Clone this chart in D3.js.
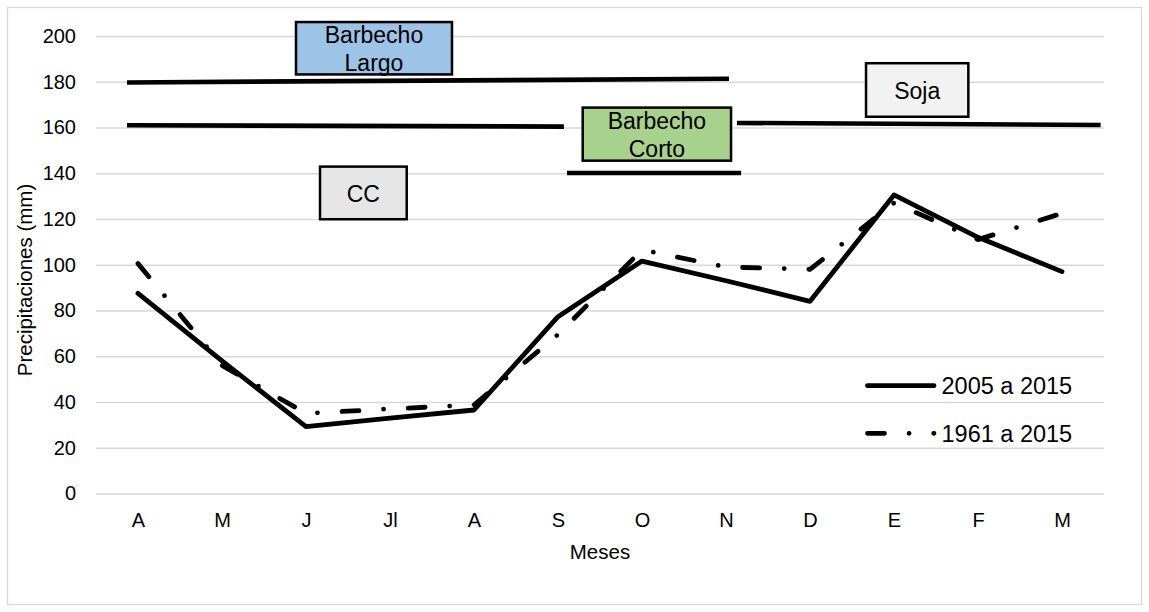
<!DOCTYPE html>
<html>
<head>
<meta charset="utf-8">
<script src="https://cdn.jsdelivr.net/npm/d3@7"></script>
<style>
  body { margin: 0; background: #fff; }
  svg { display: block; }
  text { font-family: "Liberation Sans", Arial, Helvetica, sans-serif; fill: #000; }
</style>
</head>
<body>
<svg id="chart" width="1149" height="612"></svg>
<script>
// Monthly rainfall (mm), April to March
const months = ["A", "M", "J", "Jl", "A", "S", "O", "N", "D", "E", "F", "M"];
const rain2005to2015 = [87.5, 58, 29.2, 33, 36.5, 77.3, 101.6, 93, 84, 130.5, 112, 97];
const rain1961to2015 = [100.5, 56, 35, 37, 38.7, 69.5, 106.5, 99, 98, 127, 111, 122.5];
const seriesNames = ["2005 a 2015", "1961 a 2015"];
const yTicks = [0, 20, 40, 60, 80, 100, 120, 140, 160, 180, 200];

// Crop-period bars: span in month-index units, level in mm at each end
const periodFrom = [-0.131, -0.131, 7.13, 5.107];
const periodTo = [7.036, 5.07, 11.46, 7.18];
const periodStartLevel = [179.7, 161.0, 162.0, 140.1];
const periodEndLevel = [181.3, 160.4, 161.1, 140.1];

// Period labels: text lines, span in month-index units, top/bottom in mm
const labelText = [["Barbecho", "Largo"], ["Barbecho", "Corto"], ["Soja"], ["CC"]];
const labelFrom = [1.881, 5.294, 8.667, 2.167];
const labelTo = [3.738, 7.06, 9.885, 3.199];
const labelTop = [206.1, 168.7, 188.1, 142.9];
const labelBottom = [183.2, 145.5, 164.7, 119.9];
const labelFill = ["#9DC3E6", "#A9D18E", "#F2F2F2", "#E7E6E6"];

const svg = d3.select("#chart");
const W = 1149, H = 612;
const plot = { left: 96, right: 1104, top: 36, bottom: 493.5 };

// chart area frame
svg.append("rect")
  .attr("x", 7.5).attr("y", 7.5)
  .attr("width", W - 15).attr("height", H - 15)
  .attr("fill", "#fff").attr("stroke", "#D9D9D9").attr("stroke-width", 1.3);

const idx = d3.range(months.length);
const x = d3.scalePoint().domain(idx).range([plot.left, plot.right]).padding(0.5);
const xi = d3.scaleLinear().domain([-0.5, months.length - 0.5]).range([plot.left, plot.right]);
const y = d3.scaleLinear().domain([0, 200]).range([plot.bottom, plot.top]);

// y axis with gridlines
const yAxis = svg.append("g")
  .attr("transform", `translate(${plot.left},0)`)
  .call(d3.axisLeft(y).tickValues(yTicks).tickSize(-(plot.right - plot.left)).tickPadding(20));
yAxis.select(".domain").remove();
yAxis.selectAll(".tick line").attr("stroke", "#D9D9D9").attr("stroke-width", 1.4);
yAxis.selectAll(".tick text").attr("font-size", 20).style("fill", "#000");

// x axis labels
const xAxis = svg.append("g")
  .attr("transform", `translate(0,${plot.bottom})`)
  .call(d3.axisBottom(x).tickSize(0).tickPadding(19).tickFormat(i => months[i]));
xAxis.select(".domain").remove();
xAxis.selectAll(".tick text").attr("font-size", 20).style("fill", "#000");

// axis titles
svg.append("text")
  .attr("x", 600).attr("y", 558.5)
  .attr("text-anchor", "middle").attr("font-size", 20.5)
  .text("Meses");
svg.append("text")
  .attr("transform", "translate(32,280) rotate(-90)")
  .attr("text-anchor", "middle").attr("font-size", 20.5)
  .text("Precipitaciones (mm)");

// crop period bars
const periods = idx.slice(0, periodFrom.length).map(i => ({
  x0: periodFrom[i], x1: periodTo[i], v0: periodStartLevel[i], v1: periodEndLevel[i]
}));
svg.append("g").selectAll("line").data(periods).join("line")
  .attr("x1", d => xi(d.x0)).attr("x2", d => xi(d.x1))
  .attr("y1", d => y(d.v0)).attr("y2", d => y(d.v1))
  .attr("stroke", "#000").attr("stroke-width", 4.6);

// period labels
const labels = labelText.map((t, i) => ({
  lines: t, x0: labelFrom[i], x1: labelTo[i], top: labelTop[i], bottom: labelBottom[i], fill: labelFill[i]
}));
const lg = svg.append("g").selectAll("g").data(labels).join("g");
lg.append("rect")
  .attr("x", d => xi(d.x0)).attr("y", d => y(d.top))
  .attr("width", d => xi(d.x1) - xi(d.x0)).attr("height", d => y(d.bottom) - y(d.top))
  .attr("fill", d => d.fill).attr("stroke", "#000").attr("stroke-width", 2.5);
lg.each(function (d) {
  const cx = (xi(d.x0) + xi(d.x1)) / 2;
  const cy = (y(d.top) + y(d.bottom)) / 2;
  const n = d.lines.length;
  d3.select(this).selectAll("text").data(d.lines).join("text")
    .attr("x", cx)
    .attr("y", (t, i) => cy + 9 + (i - (n - 1) / 2) * 28)
    .attr("text-anchor", "middle").attr("font-size", 23)
    .text(t => t);
});

// rainfall series
const line = d3.line().x((v, i) => x(i)).y(v => y(v));
const dashPattern = "17 24.6 0 24.6";
svg.append("path")
  .datum(rain2005to2015)
  .attr("d", line)
  .attr("fill", "none").attr("stroke", "#000").attr("stroke-width", 4.8)
  .attr("stroke-linejoin", "round").attr("stroke-linecap", "round");
svg.append("path")
  .datum(rain1961to2015)
  .attr("d", line)
  .attr("fill", "none").attr("stroke", "#000").attr("stroke-width", 4.8)
  .attr("stroke-dasharray", dashPattern)
  .attr("stroke-linejoin", "round").attr("stroke-linecap", "round");

// legend
const legend = svg.append("g");
const legendRows = [
  { name: seriesNames[0], dash: null, y: 385.7 },
  { name: seriesNames[1], dash: dashPattern, y: 433.3 }
];
legendRows.forEach(r => {
  legend.append("line")
    .attr("x1", 867.5).attr("x2", 934).attr("y1", r.y).attr("y2", r.y)
    .attr("stroke", "#000").attr("stroke-width", 4.8)
    .attr("stroke-linecap", "round")
    .attr("stroke-dasharray", r.dash);
  legend.append("text")
    .attr("x", 941.5).attr("y", r.y + 8.3)
    .attr("font-size", 23.5)
    .text(r.name);
});
</script>
</body>
</html>
